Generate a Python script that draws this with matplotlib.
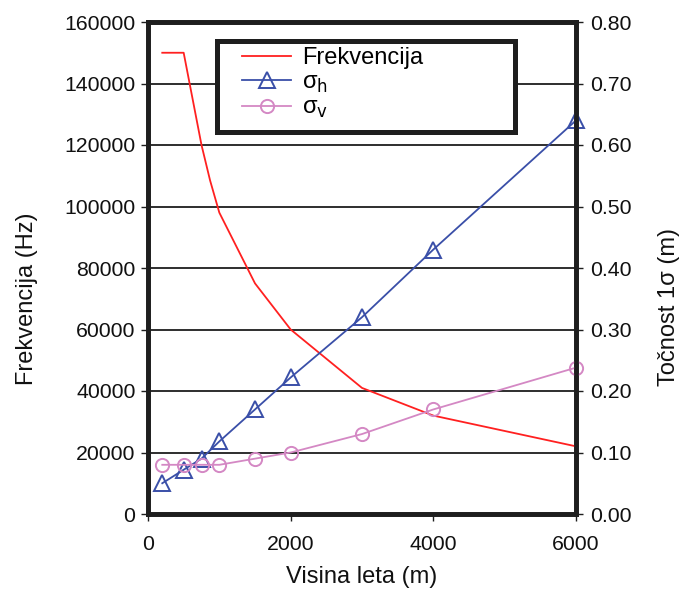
import matplotlib
matplotlib.use("Agg")
import matplotlib.pyplot as plt
from matplotlib.patches import Rectangle

plt.rcParams['font.family'] = ['Liberation Sans', 'DejaVu Sans']

# Data
freq_height = [200, 500, 750, 870, 1000, 1500, 2000, 3000, 4000, 6000]
freq_values = [150000, 150000, 120000, 108500, 98000, 75000, 60000, 41000, 32000, 22000]

sigma_height = [200, 500, 750, 1000, 1500, 2000, 3000, 4000, 6000]
sigma_h = [0.05, 0.072, 0.09, 0.118, 0.17, 0.222, 0.32, 0.43, 0.64]
sigma_v = [0.08, 0.08, 0.08, 0.08, 0.09, 0.10, 0.13, 0.17, 0.238]

left_ticks = [0, 20000, 40000, 60000, 80000, 100000, 120000, 140000, 160000]
right_ticks = [0.0, 0.1, 0.2, 0.3, 0.4, 0.5, 0.6, 0.7, 0.8]
x_ticks = [0, 2000, 4000, 6000]

W, H = 679, 589
fig = plt.figure(figsize=(W/100, H/100), dpi=100)
ax = fig.add_axes([148/W, 1-514/H, (576-148)/W, (514-22)/H])
ax2 = ax.twinx()

frame_c = '#1e1e1e'
for a in (ax, ax2):
    for s in a.spines.values():
        s.set_linewidth(3.4)
        s.set_color(frame_c)

ax.set_xlim(0, 6000)
ax.set_ylim(0, 160000)
ax2.set_ylim(0, 0.8)
ax.set_xticks(x_ticks)
ax.set_yticks(left_ticks)
ax2.set_yticks(right_ticks)
ax2.set_yticklabels([f"{v:.2f}" for v in right_ticks])
ax.set_yticklabels([str(v) for v in left_ticks])

ax.grid(axis='y', color='#1e1e1e', linewidth=1.3)
ax.set_axisbelow(True)

ax.tick_params(axis='y', direction='out', length=5, width=1, colors='#1e1e1e',
               labelsize=15.3, labelcolor='#111111', pad=4)
ax.tick_params(axis='x', direction='out', length=5, width=1, colors='#1e1e1e',
               labelsize=15.3, labelcolor='#111111', pad=10)
ax2.tick_params(axis='y', direction='out', length=5, width=1, colors='#1e1e1e',
                labelsize=15.3, labelcolor='#111111', pad=5)

l1, = ax.plot(freq_height, freq_values, color='#ff2020', lw=1.3, label='Frekvencija', zorder=3)
l2, = ax2.plot(sigma_height, sigma_h, color='#3a4fa8', lw=1.3, marker='^', markersize=11,
               markerfacecolor='none', markeredgecolor='#3a4fa8', markeredgewidth=1.4,
               label='σ$_\\mathrm{h}$', clip_on=False)
l3, = ax2.plot(sigma_height, sigma_v, color='#d488c4', lw=1.3, marker='o', markersize=9.5,
               markerfacecolor='none', markeredgecolor='#d488c4', markeredgewidth=1.4,
               label='σ$_\\mathrm{v}$', clip_on=False)

ax.set_xlabel('Visina leta (m)', fontsize=17, labelpad=8.5, color='#111111')
ax.set_ylabel('Frekvencija (Hz)', fontsize=17, color='#111111')
ax2.set_ylabel('Točnost 1σ (m)', fontsize=17, color='#111111')
ax.yaxis.set_label_coords(-0.257, 0.437)
ax2.yaxis.set_label_coords(1.192, 0.421)

# legend frame drawn as a rectangle (figure coords), legend entries without frame
frame = Rectangle((217/W, 1-132/H), (515-217)/W, (132-41)/H, transform=fig.transFigure,
                  facecolor='white', edgecolor='#1e1e1e', linewidth=3.6, zorder=9,
                  clip_on=False)
ax2.add_artist(frame)
leg = ax2.legend(handles=[l1, l2, l3], loc='upper left',
                 bbox_to_anchor=(242/W, 1-47/H), bbox_transform=fig.transFigure,
                 frameon=False, prop={'size': 17},
                 handlelength=2.08, borderpad=0, labelspacing=0.1,
                 handletextpad=0.47, borderaxespad=0)
leg.set_zorder(10)

fig.savefig('out.png', dpi=100)
